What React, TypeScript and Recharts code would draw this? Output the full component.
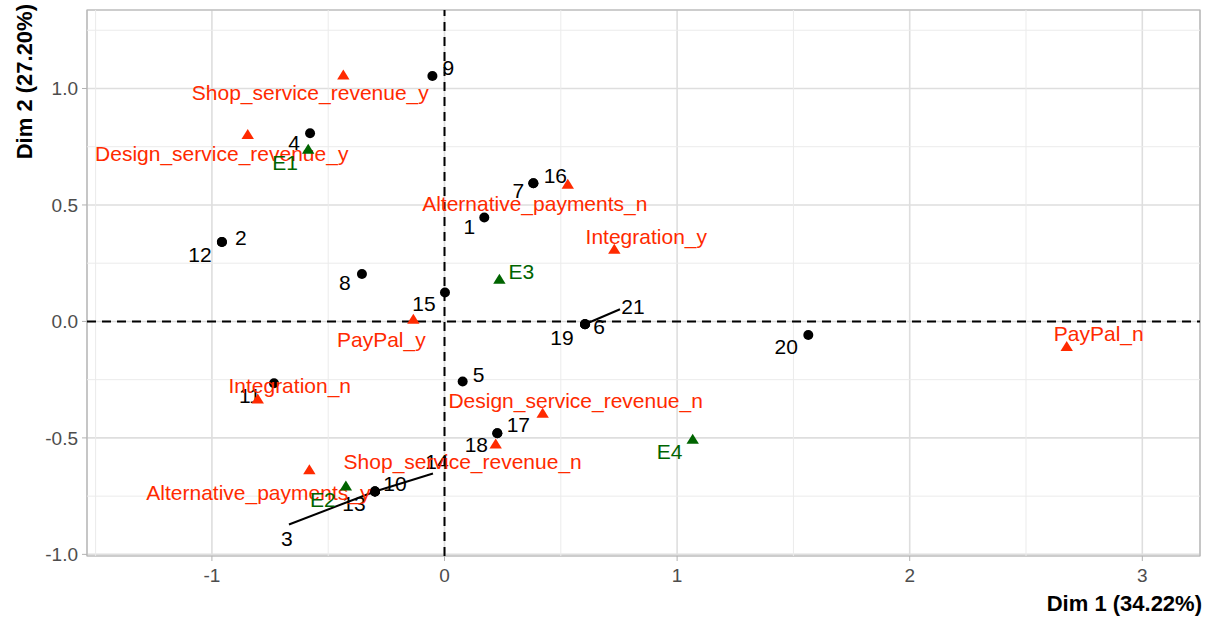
import React from "react";
import {
  ScatterChart,
  Scatter,
  XAxis,
  YAxis,
  CartesianGrid,
  ReferenceLine,
  ReferenceArea,
  Label,
} from "recharts";

// individuals (rows)
const indNames = ["1", "2", "3", "4", "5", "6", "7", "8", "9", "10", "11", "12", "13", "14", "15", "16", "17", "18", "19", "20", "21"];
const indX = [0.171, -0.957, -0.299, -0.578, 0.078, 0.604, 0.382, -0.355, -0.052, -0.299, -0.733, -0.957, -0.299, -0.299, 0.002, 0.382, 0.227, 0.227, 0.604, 1.564, 0.604];
const indY = [0.446, 0.341, -0.73, 0.808, -0.258, -0.012, 0.593, 0.204, 1.054, -0.73, -0.265, 0.341, -0.73, -0.73, 0.124, 0.593, -0.48, -0.48, -0.012, -0.058, -0.012];

// variable categories
const varNames = [
  "Shop_service_revenue_y",
  "Design_service_revenue_y",
  "Alternative_payments_n",
  "Integration_y",
  "PayPal_y",
  "PayPal_n",
  "Integration_n",
  "Design_service_revenue_n",
  "Shop_service_revenue_n",
  "Alternative_payments_y",
];
const varX = [-0.435, -0.846, 0.53, 0.73, -0.134, 2.675, -0.803, 0.422, 0.22, -0.581];
const varY = [1.058, 0.803, 0.589, 0.31, 0.009, -0.108, -0.333, -0.394, -0.526, -0.637];

// supplementary categories
const supNames = ["E1", "E2", "E3", "E4"];
const supX = [-0.586, -0.424, 0.236, 1.067];
const supY = [0.739, -0.706, 0.181, -0.506];

const xTicks = [-1, 0, 1, 2, 3];
const yTicks = [-1, -0.5, 0, 0.5, 1];
const xMinor = [-1.5, -0.5, 0.5, 1.5, 2.5];
const yMinor = [-0.75, -0.25, 0.25, 0.75, 1.25];
const xDomain: [number, number] = [-1.537, 3.248];
const yDomain: [number, number] = [-1.007, 1.337];

// repelled label placement (px from the point), optional leader segment end
const nudge: Record<string, number[]> = {
  "1": [-15, 9], "2": [19, -4], "3": [-88, 47, -86, 33], "4": [-16, 9], "5": [16, -7],
  "6": [14, 2], "7": [-15, 7], "8": [-17, 9], "9": [16, -8], "10": [20, -8],
  "11": [-24, 12], "12": [-22, 13], "13": [-21, 12], "14": [62, -30, 58, -18],
  "15": [-21, 11], "16": [22, -8], "17": [21, -9], "18": [-21, 11], "19": [-23, 13],
  "20": [-22, 12], "21": [48, -18, 35, -15],
  Shop_service_revenue_y: [-33, 18], Design_service_revenue_y: [-26, 19],
  Alternative_payments_n: [-33, 19], Integration_y: [32, -13], PayPal_y: [-32, 20],
  PayPal_n: [32, -13], Integration_n: [32, -13], Design_service_revenue_n: [33, -13],
  Shop_service_revenue_n: [-33, 18], Alternative_payments_y: [-51, 23],
  E1: [-23, 13], E2: [-23, 14], E3: [22, -8], E4: [-23, 12],
};

const toRows = (names: string[], xs: number[], ys: number[]) =>
  names.map((name, i) => ({ name, x: xs[i], y: ys[i] }));

const indData = toRows(indNames, indX, indY);
const varData = toRows(varNames, varX, varY);
const supData = toRows(supNames, supX, supY);

const FONT = "'Liberation Sans', Arial, Helvetica, sans-serif";
const RED = "#FF2A00";
const GREEN = "#006400";

const makeShape = (kind: "dot" | "tri", color: string) => (props: any) => {
  const { cx, cy, payload } = props;
  if (cx == null || cy == null) return <g />;
  const n = nudge[payload.name] || [0, 0];
  return (
    <g>
      {n.length > 2 && (
        <line x1={cx} y1={cy} x2={cx + n[2]} y2={cy + n[3]} stroke="#000" strokeWidth={2} />
      )}
      {kind === "dot" ? (
        <circle cx={cx} cy={cy} r={5} fill={color} />
      ) : (
        <polygon
          points={`${cx},${cy - 5.5} ${cx - 6.2},${cy + 4.5} ${cx + 6.2},${cy + 4.5}`}
          fill={color}
        />
      )}
      <text
        x={cx + n[0]}
        y={cy + n[1]}
        dy="0.35em"
        textAnchor="middle"
        fill={color}
        fontSize={21}
        fontFamily={FONT}
      >
        {payload.name}
      </text>
    </g>
  );
};

export default function App() {
  return (
    <div style={{ position: "absolute", left: 0, top: 0, background: "#fff" }}>
      <ScatterChart width={1207} height={619} margin={{ top: 10, right: 7, bottom: 13, left: 0 }}>
        <CartesianGrid stroke="#DEDEDE" strokeWidth={1.6} />
        {xMinor.map((v) => (
          <ReferenceLine key={"mx" + v} x={v} stroke="#EBEBEB" strokeWidth={1} />
        ))}
        {yMinor.map((v) => (
          <ReferenceLine key={"my" + v} y={v} stroke="#EBEBEB" strokeWidth={1} />
        ))}
        <XAxis
          type="number"
          dataKey="x"
          domain={xDomain}
          ticks={xTicks}
          allowDataOverflow
          height={50}
          axisLine={false}
          tickSize={5}
          tickMargin={8}
          tickLine={{ stroke: "#B3B3B3" }}
          tick={{ fill: "#4D4D4D", fontSize: 19, fontFamily: FONT }}
        >
          <Label
            content={() => (
              <text x={1202} y={611} textAnchor="end" fontSize={22} fontWeight="bold" fontFamily={FONT} fill="#000">
                Dim 1 (34.22%)
              </text>
            )}
          />
        </XAxis>
        <YAxis
          type="number"
          dataKey="y"
          domain={yDomain}
          ticks={yTicks}
          allowDataOverflow
          width={87}
          axisLine={false}
          tickSize={5}
          tickMargin={4}
          tickLine={{ stroke: "#B3B3B3" }}
          tickFormatter={(v: number) => v.toFixed(1)}
          tick={{ fill: "#4D4D4D", fontSize: 19, fontFamily: FONT }}
        >
          <Label
            content={() => (
              <text
                x={32}
                y={4}
                transform="rotate(-90, 32, 4)"
                textAnchor="end"
                fontSize={22}
                fontWeight="bold"
                fontFamily={FONT}
                fill="#000"
              >
                Dim 2 (27.20%)
              </text>
            )}
          />
        </YAxis>
        <ReferenceArea
          x1={xDomain[0]}
          x2={xDomain[1]}
          y1={yDomain[0]}
          y2={yDomain[1]}
          fill="none"
          stroke="#B3B3B3"
          strokeWidth={1.2}
        />
        <ReferenceLine x={0} stroke="#000" strokeWidth={2} strokeDasharray="9 6" />
        <ReferenceLine y={0} stroke="#000" strokeWidth={2} strokeDasharray="9 6" />
        <Scatter data={indData} shape={makeShape("dot", "#000")} isAnimationActive={false} />
        <Scatter data={varData} shape={makeShape("tri", RED)} isAnimationActive={false} />
        <Scatter data={supData} shape={makeShape("tri", GREEN)} isAnimationActive={false} />
      </ScatterChart>
    </div>
  );
}
